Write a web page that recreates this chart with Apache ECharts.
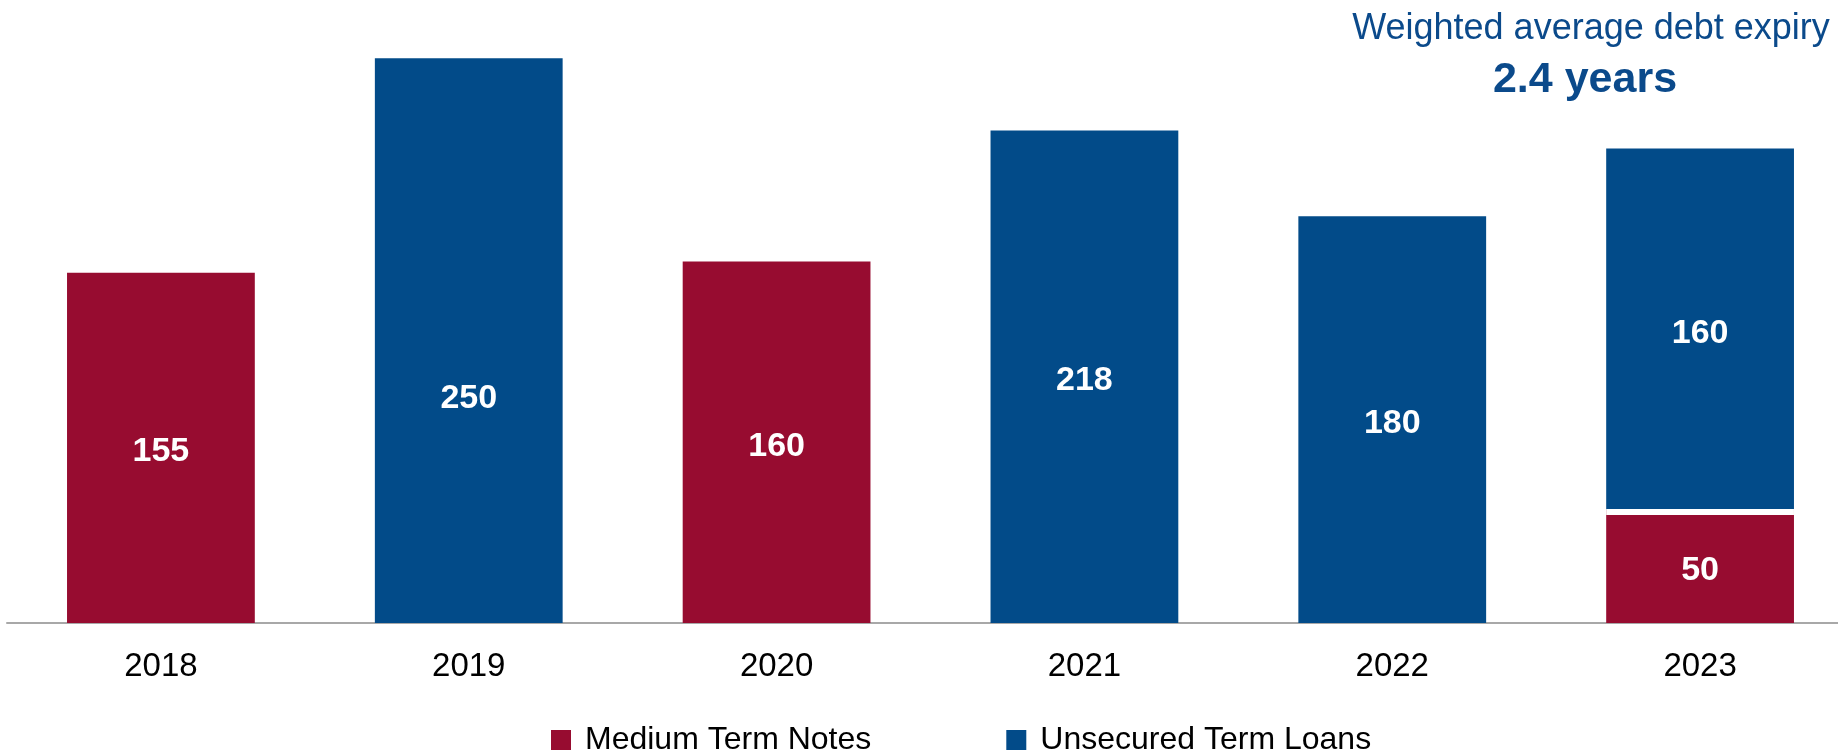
<!DOCTYPE html>
<html>
<head>
<meta charset="utf-8">
<title>Debt expiry profile</title>
<script src="https://cdn.jsdelivr.net/npm/echarts@6/dist/echarts.min.js"></script>
<style>
  html, body { margin: 0; padding: 0; background: #ffffff; }
  #chart { width: 1838px; height: 754px; }
</style>
</head>
<body>
<div id="chart"></div>
<script>
// Debt maturing per year, by facility type
const years = ['2018', '2019', '2020', '2021', '2022', '2023'];
const mediumTermNotes = [155, null, 160, null, null, 50];
const unsecuredTermLoans = [null, 250, null, 218, 180, 160];
const seriesNames = ['Medium Term Notes', 'Unsecured Term Loans'];
const headline = 'Weighted average debt expiry';
const headlineValue = '2.4 years';

const RED = '#970C30';
const BLUE = '#024B89';
const FONT = '"Liberation Sans", Arial, Helvetica, sans-serif';

// Years where a loan sits on top of notes get a thin white divider
const dividers = [];
years.forEach((y, i) => {
  if (mediumTermNotes[i] != null && unsecuredTermLoans[i] != null) {
    dividers.push([i, mediumTermNotes[i]]);
  }
});

const barLabel = {
  show: true,
  position: 'inside',
  offset: [0, 4],
  color: '#ffffff',
  fontFamily: FONT,
  fontWeight: 'bold',
  fontSize: 34
};

const noteData = mediumTermNotes.map(v => (v == null ? '-' : v));
const loanData = unsecuredTermLoans.map((v, i) => {
  if (v == null) return '-';
  // the tallest bar carries its label lower down
  if (years[i] === '2019') return { value: v, label: { offset: [0, 58] } };
  return v;
});

const chart = echarts.init(document.getElementById('chart'), null, { renderer: 'canvas' });

chart.setOption({
  animation: false,
  backgroundColor: '#ffffff',
  grid: {
    left: 7,
    width: 1847,
    top: 13,
    bottom: 131,
    containLabel: false,
    outerBoundsMode: 'none'
  },
  legend: {
    data: seriesNames,
    left: 551,
    top: 724,
    padding: 0,
    itemWidth: 20,
    itemHeight: 20,
    itemGap: 135,
    icon: 'rect',
    textStyle: {
      color: '#000000',
      fontFamily: FONT,
      fontSize: 32,
      padding: [12, 0, 0, 9]
    }
  },
  xAxis: {
    type: 'category',
    data: years,
    offset: 2,
    axisLine: { show: true, lineStyle: { color: '#a8a8a8', width: 2 } },
    axisTick: { show: false },
    axisLabel: {
      color: '#000000',
      fontFamily: FONT,
      fontSize: 33,
      margin: 25
    }
  },
  yAxis: {
    type: 'value',
    min: 0,
    max: 270,
    show: false,
    splitLine: { show: false }
  },
  graphic: [
    {
      type: 'text',
      x: 1591,
      y: 29,
      style: {
        text: headline,
        fill: '#0B4A8B',
        font: '36px ' + FONT,
        align: 'center',
        verticalAlign: 'middle'
      }
    },
    {
      type: 'text',
      x: 1585,
      y: 80,
      style: {
        text: headlineValue,
        fill: '#0B4A8B',
        font: 'bold 43px ' + FONT,
        align: 'center',
        verticalAlign: 'middle'
      }
    }
  ],
  series: [
    {
      name: seriesNames[0],
      type: 'bar',
      stack: 'debt',
      barWidth: '61%',
      itemStyle: { color: RED },
      label: barLabel,
      data: noteData
    },
    {
      name: seriesNames[1],
      type: 'bar',
      stack: 'debt',
      barWidth: '61%',
      itemStyle: { color: BLUE },
      label: barLabel,
      data: loanData
    },
    {
      type: 'custom',
      silent: true,
      z: 10,
      data: dividers,
      renderItem: function (params, api) {
        const p = api.coord([api.value(0), api.value(1)]);
        const w = api.size([1, 0])[0] * 0.61;
        return {
          type: 'rect',
          shape: { x: p[0] - w / 2, y: p[1] - 1, width: w, height: 6 },
          style: { fill: '#ffffff' }
        };
      }
    }
  ]
});
</script>
</body>
</html>
